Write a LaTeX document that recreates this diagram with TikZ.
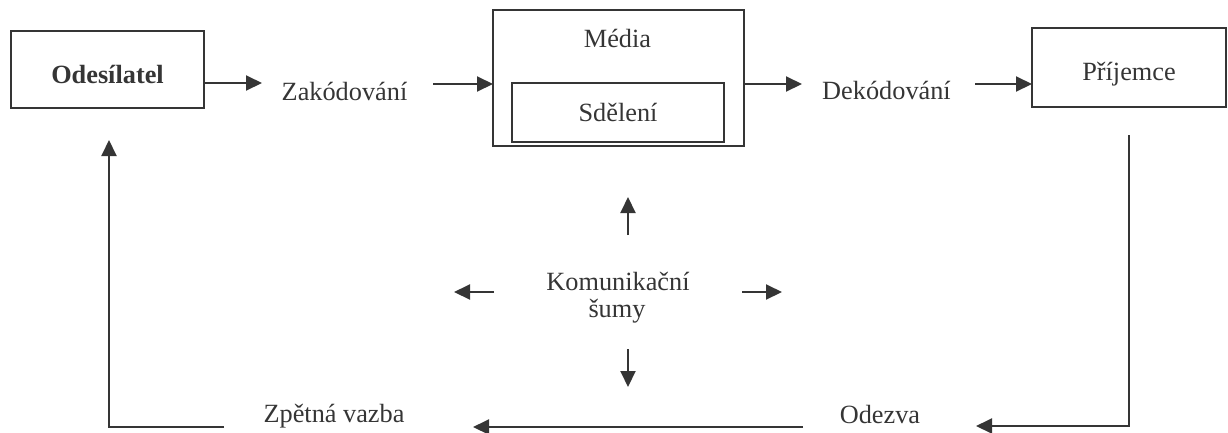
\documentclass[tikz,border=0pt]{standalone}
\usepackage{fontspec}
\setmainfont{Liberation Serif}
\usetikzlibrary{arrows.meta}
\definecolor{ink}{HTML}{353535}
\tikzset{
  box/.style={draw=ink, line width=2pt, rectangle, inner sep=0pt},
  lbl/.style={text=ink, font=\fontsize{26.3}{27}\selectfont, inner sep=0pt, anchor=base},
  conn/.style={draw=ink, line width=2pt},
  arr/.style={conn, -{Triangle[length=16pt,width=15pt]}},
}
\begin{document}
\begin{tikzpicture}[x=1pt,y=-1pt]
\useasboundingbox (0,0) rectangle (1228,432);
% boxes
\node[box, minimum width=193pt, minimum height=77pt] (odes) at (107.5,69.5) {};
\node[box, minimum width=251pt, minimum height=136pt] (media) at (618.5,78) {};
\node[box, minimum width=212pt, minimum height=59pt] (sdel) at (618,112.5) {};
\node[box, minimum width=194pt, minimum height=79pt] (prij) at (1129,67.5) {};
% labels
\node[lbl, font=\fontsize{26.3}{27}\selectfont\bfseries] (odesT) at (107.5,83) {Odesílatel};
\node[lbl] (mediaT) at (617.5,47) {Média};
\node[lbl] (sdelT) at (618,121) {Sdělení};
\node[lbl] (prijT) at (1129,80) {Příjemce};
\node[lbl] (zak) at (344.5,100) {Zakódování};
\node[lbl] (dek) at (886.5,99) {Dekódování};
\node[lbl] (odez) at (880,423) {Odezva};
\node[lbl] (zpet) at (334,422) {Zpětná vazba};
\node[lbl] (sum1) at (618,290) {Komunikační};
\node[lbl] (sum2) at (617,317) {šumy};
% coordinates
\coordinate (a1s) at (204,83);   \coordinate (a1e) at (262,83);
\coordinate (a2s) at (433,84);   \coordinate (a2e) at (493,84);
\coordinate (a3s) at (744,84);   \coordinate (a3e) at (802,84);
\coordinate (a4s) at (975,84);   \coordinate (a4e) at (1032,84);
\coordinate (r1) at (1129,135);  \coordinate (r2) at (1129,426);
\coordinate (r3) at (976,426);
\coordinate (b1) at (803,427);   \coordinate (b2) at (473,427);
\coordinate (l1) at (224,427);   \coordinate (l2) at (109,427);
\coordinate (l3) at (109,140);
\coordinate (nu1) at (628,235);  \coordinate (nu2) at (628,197);
\coordinate (nd1) at (628,349);  \coordinate (nd2) at (628,387);
\coordinate (nl1) at (494,292);  \coordinate (nl2) at (454,292);
\coordinate (nr1) at (742,292);  \coordinate (nr2) at (782,292);
% connectors
\draw[arr] (a1s) -- (a1e);
\draw[arr] (a2s) -- (a2e);
\draw[arr] (a3s) -- (a3e);
\draw[arr] (a4s) -- (a4e);
\draw[arr] (r1) -- (r2) -- (r3);
\draw[arr] (b1) -- (b2);
\draw[arr] (l1) -- (l2) -- (l3);
\draw[arr] (nu1) -- (nu2);
\draw[arr] (nd1) -- (nd2);
\draw[arr] (nl1) -- (nl2);
\draw[arr] (nr1) -- (nr2);
\end{tikzpicture}
\end{document}
